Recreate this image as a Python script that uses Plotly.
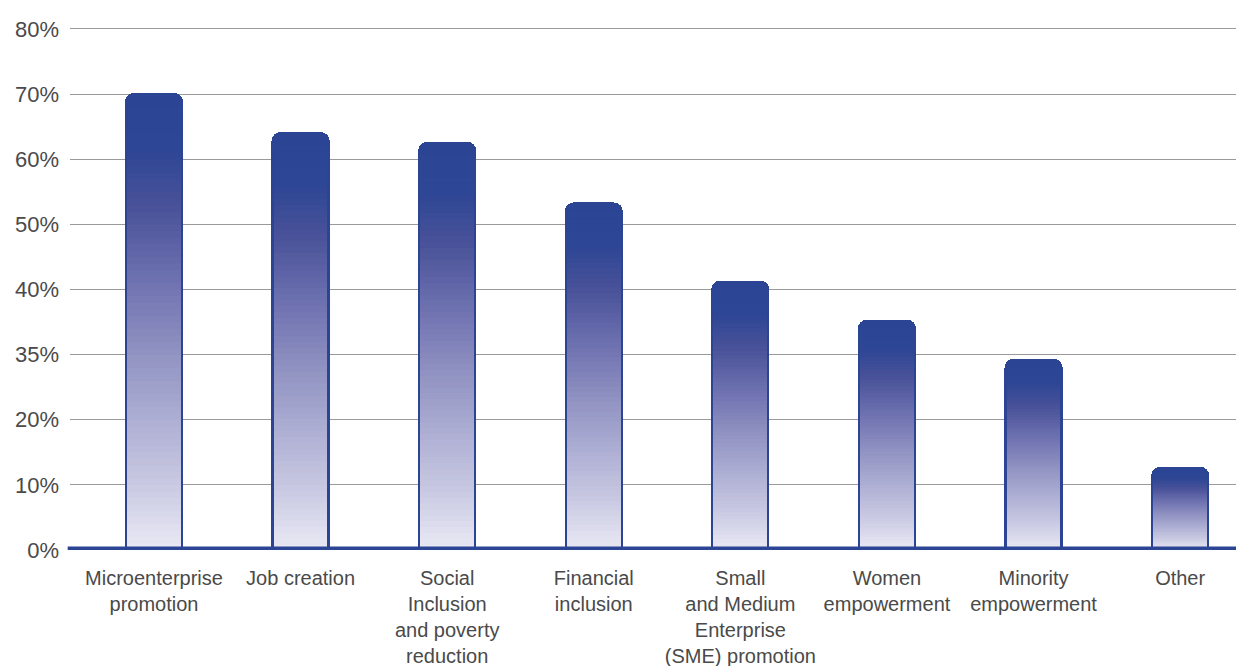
import plotly.graph_objects as go

# ---- data ----
categories = [
    "Microenterprise<br>promotion",
    "Job creation",
    "Social<br>Inclusion<br>and poverty<br>reduction",
    "Financial<br>inclusion",
    "Small<br>and Medium<br>Enterprise<br>(SME) promotion",
    "Women<br>empowerment",
    "Minority<br>empowerment",
    "Other",
]
values = [70.0, 64.0, 62.5, 53.2, 41.2, 35.2, 29.2, 12.6]
tick_vals = [0, 10, 20, 30, 40, 50, 60, 70, 80]
tick_text = ["0%", "10%", "20%", "35%", "40%", "50%", "60%", "70%", "80%"]

# ---- style ----
DARK = "#2B4594"
# gradient stops: fraction from top of bar -> rgb
STOPS = [
    (0.00, (43, 69, 148)),
    (0.12, (45, 70, 149)),
    (0.25, (74, 82, 153)),
    (0.40, (108, 112, 175)),
    (0.55, (141, 143, 192)),
    (0.70, (171, 172, 210)),
    (0.85, (200, 200, 226)),
    (1.00, (234, 234, 245)),
]
N_SEG = 70
BAR_W = 0.382
FONT = "Liberation Sans, Arial, Helvetica, sans-serif"
TXT = "#4a4a4a"
XRANGE = [-0.573, 7.381]


def grad_color(f):
    for (f0, c0), (f1, c1) in zip(STOPS[:-1], STOPS[1:]):
        if f0 <= f <= f1:
            t = (f - f0) / (f1 - f0) if f1 > f0 else 0
            c = [round(a + (b - a) * t) for a, b in zip(c0, c1)]
            return "rgb(%d,%d,%d)" % tuple(c)
    return "rgb(%d,%d,%d)" % STOPS[-1][1]


fig = go.Figure()

# gradient fill: stacked segments (bottom -> top)
for i in range(N_SEG):
    frac_from_top = 1 - (i + 0.5) / N_SEG
    col = grad_color(frac_from_top)
    fig.add_trace(go.Bar(
        x=categories,
        y=[v / N_SEG for v in values],
        width=BAR_W,
        marker=dict(color=col, line=dict(color=col, width=0.6)),
        hoverinfo="skip",
        showlegend=False,
    ))

# outline trace on overlaying axis
fig.add_trace(go.Bar(
    x=categories,
    y=values,
    width=BAR_W,
    xaxis="x2",
    marker=dict(color="rgba(0,0,0,0)", line=dict(color=DARK, width=2.2),
                cornerradius=8),
    hoverinfo="skip",
    showlegend=False,
))

fig.update_layout(
    width=1236,
    height=666,
    barmode="stack",
    barcornerradius=8,
    margin=dict(l=70, r=0, t=27, b=116, autoexpand=False),
    paper_bgcolor="white",
    plot_bgcolor="white",
    font=dict(family=FONT, color=TXT),
    xaxis=dict(
        type="category",
        categoryorder="array",
        categoryarray=categories,
        range=XRANGE,
        showgrid=False,
        zeroline=False,
        showline=False,
        ticks="",
        tickfont=dict(size=20, color=TXT, family=FONT),
        ticklabelstandoff=14,
        automargin=False,
    ),
    xaxis2=dict(
        type="category",
        categoryorder="array",
        categoryarray=categories,
        overlaying="x",
        range=XRANGE,
        showgrid=False,
        zeroline=False,
        showline=False,
        showticklabels=False,
        ticks="",
    ),
    yaxis=dict(
        range=[0, 80.3],
        tickvals=tick_vals,
        ticktext=tick_text,
        showgrid=True,
        gridcolor="#9a9a9a",
        gridwidth=1,
        zeroline=False,
        showline=False,
        ticks="",
        tickfont=dict(size=22, color=TXT, family=FONT),
        ticklabelstandoff=10,
        automargin=False,
    ),
    shapes=[dict(
        type="line", xref="paper", yref="y",
        x0=-0.002, x1=1, y0=0, y1=0,
        line=dict(color=DARK, width=7),
        layer="above",
    )],
)

fig.write_html(
    "out.html",
    config={"displayModeBar": False},
    post_script="document.body.style.margin='0';document.body.style.overflow='hidden';",
)
